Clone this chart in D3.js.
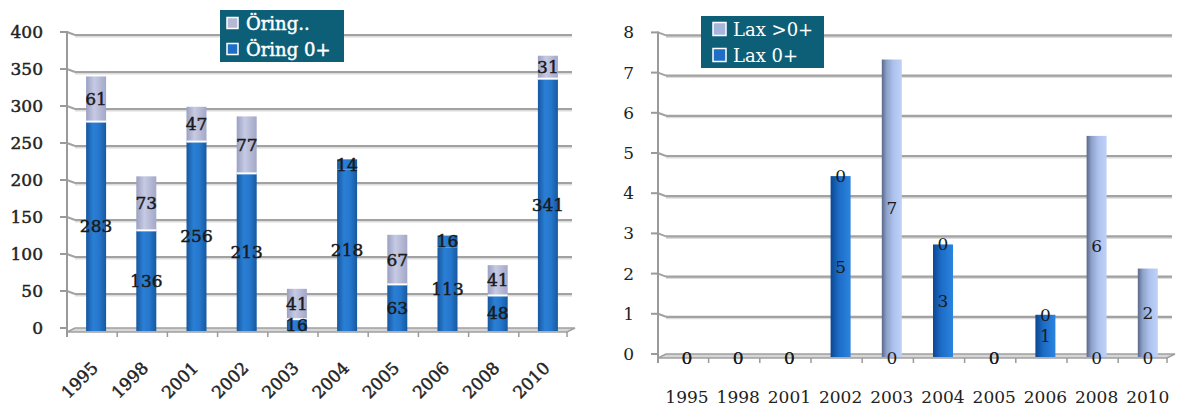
<!DOCTYPE html>
<html>
<head>
<meta charset="utf-8">
<script src="https://cdn.jsdelivr.net/npm/d3@7"></script>
<style>
html,body{margin:0;padding:0;background:#fff;}
svg{display:block;}
</style>
</head>
<body>
<svg id="c" width="1180" height="408"></svg>
<script>
// ---------- data ----------
const categories = ["1995","1998","2001","2002","2003","2004","2005","2006","2008","2010"];
const oringYoung = [283,136,256,213,16,218,63,113,48,341];   // "Öring 0+"
const oringOlder = [61,73,47,77,41,14,67,16,41,31];         // "Öring.."
const laxYoung   = [0,0,0,4.5,0,2.8,0,1.05,0,0];            // "Lax 0+"
const laxOlder   = [0,0,0,0,7.4,0,0,0,5.5,2.2];             // "Lax >0+"
const leftTicks  = [0,50,100,150,200,250,300,350,400];
const rightTicks = [0,1,2,3,4,5,6,7,8];
const leftLegend  = ["Öring..","Öring 0+"];
const rightLegend = ["Lax >0+","Lax 0+"];
// points of the older series that were drawn in the dark colour in the original
const olderDrawnDark = new Set(["2004","2006"]);

const svg = d3.select("#c");
const defs = svg.append("defs");
function grad(id, stops){
  const g = defs.append("linearGradient").attr("id",id).attr("x1","0").attr("x2","1").attr("y1","0").attr("y2","0");
  stops.forEach(s=>g.append("stop").attr("offset",s[0]).attr("stop-color",s[1]));
}
grad("blueL",[["0%","#16579f"],["35%","#2a7fd5"],["65%","#2577cd"],["100%","#17599f"]]);
grad("greyL",[["0%","#9aa0c2"],["40%","#c6cae3"],["100%","#a3a8c8"]]);
grad("blueR",[["0%","#0c4791"],["40%","#1c6cc6"],["100%","#2b84de"]]);
grad("lightR",[["0%","#5b6988"],["25%","#8ea2cb"],["60%","#aec3ee"],["100%","#bfd1f6"]]);

const serif = "'DejaVu Serif', serif";

function styleText(t, cfg, color){
  t.attr("font-family",serif).attr("fill",color);
  if (cfg.heavy) t.attr("stroke",color).attr("stroke-width",0.45);
  return t;
}

function chart(cfg){
  const g = svg.append("g");
  const y = d3.scaleLinear().domain(cfg.domain).range([cfg.y0, cfg.yTop]);
  const x = d3.scaleBand().domain(categories).range(cfg.band).padding(0);
  const ax = cfg.axisX, dep = 8;

  // gridlines (back wall) with 3D jog
  cfg.ticks.forEach(t=>{
    const yy = y(t);
    if (t !== 0) {
      g.append("line").attr("x1",ax+dep).attr("x2",cfg.endX).attr("y1",yy+1.5).attr("y2",yy+1.5)
        .attr("stroke","#dcdcdc").attr("stroke-width",2);
      g.append("line").attr("x1",ax+dep).attr("x2",cfg.endX).attr("y1",yy).attr("y2",yy)
        .attr("stroke","#a2a2a2").attr("stroke-width",2.2);
      g.append("path").attr("d",`M${ax},${yy-3}L${ax+dep},${yy}`).attr("stroke","#a2a2a2").attr("stroke-width",2).attr("fill","none");
    }
    g.append("line").attr("x1",ax-7).attr("x2",ax).attr("y1",yy-3).attr("y2",yy-3)
      .attr("stroke","#9a9a9a").attr("stroke-width",2);
    styleText(g.append("text").attr("x",ax-24).attr("y",yy-3).attr("text-anchor","end")
      .attr("dominant-baseline","central").attr("font-size",cfg.tickSize), cfg, "#222").text(t);
  });

  // floor
  const y0 = cfg.y0;
  g.append("path").attr("d",`M${ax+dep},${y0-3}L${cfg.endX+3},${y0-3}L${cfg.endX-5},${y0+1}L${ax},${y0+1}Z`)
    .attr("fill","#d6d6d6").attr("stroke","#a0a0a0").attr("stroke-width",1.5);
  // vertical axis
  g.append("line").attr("x1",ax).attr("x2",ax).attr("y1",y(cfg.domain[1])-4).attr("y2",y0+6)
    .attr("stroke","#9a9a9a").attr("stroke-width",2);
  // category ticks
  categories.forEach((c,i)=>{
    if(i===0) return;
    const bx = x(c) - 4;
    g.append("line").attr("x1",bx).attr("x2",bx).attr("y1",y0+1).attr("y2",y0+6)
      .attr("stroke","#9a9a9a").attr("stroke-width",1.5);
  });
  g.append("line").attr("x1",cfg.endX-5).attr("x2",cfg.endX-5).attr("y1",y0+1).attr("y2",y0+6)
      .attr("stroke","#9a9a9a").attr("stroke-width",1.5);

  // bars
  const bw = 20;
  categories.forEach((c,i)=>{
    const cx = x(c) + x.bandwidth()/2;
    const a = cfg.young[i], b = cfg.older[i];
    if (a > 0) {
      g.append("rect").attr("x",cx-bw/2).attr("width",bw).attr("y",y(a)).attr("height",y0-y(a))
        .attr("fill",`url(#${cfg.youngFill})`);
    }
    if (b > 0) {
      const dark = cfg.overrideDark && olderDrawnDark.has(c);
      g.append("rect").attr("x",cx-bw/2).attr("width",bw).attr("y",y(a+b)).attr("height",y(a)-y(a+b))
        .attr("fill",`url(#${dark ? cfg.youngFill : cfg.olderFill})`);
      if (a > 0 && !dark) {
        g.append("line").attr("x1",cx-bw/2).attr("x2",cx+bw/2).attr("y1",y(a)).attr("y2",y(a))
          .attr("stroke","#fff").attr("stroke-width",2);
      }
    }
  });

  // data labels
  categories.forEach((c,i)=>{
    const cx = x(c) + x.bandwidth()/2;
    const a = cfg.young[i], b = cfg.older[i];
    const lab = (v, yc) => styleText(g.append("text").attr("x",cx).attr("y",yc)
      .attr("text-anchor","middle").attr("dominant-baseline","central")
      .attr("font-size",cfg.labelSize), cfg, "#1a1a1a").text(cfg.fmt(v));
    lab(a, y(a/2) + (a===0 ? 1 : 0));
    lab(b, y(a + b/2) + (b===0 && a===0 ? 1 : 0));
  });

  // x labels
  categories.forEach(c=>{
    const cx = x(c) + x.bandwidth()/2;
    const t = styleText(g.append("text").attr("font-size",cfg.xSize), cfg, "#222").text(c);
    if (cfg.rotate) {
      t.attr("text-anchor","end").attr("transform",`translate(${cx+3},${y0+38}) rotate(-45)`);
    } else {
      t.attr("text-anchor","middle").attr("x",cx).attr("y",cfg.xLabelY);
    }
  });

  // legend
  const L = cfg.legend;
  g.append("rect").attr("x",L.x).attr("y",L.y).attr("width",L.w).attr("height",L.h).attr("fill","#0d5f77");
  L.items.forEach((name,k)=>{
    const ly = L.y + L.h*(k*2+1)/4;
    g.append("rect").attr("x",L.x+L.sx).attr("y",ly-L.ss/2).attr("width",L.ss).attr("height",L.ss)
      .attr("fill",L.colors[k]).attr("stroke","#fff").attr("stroke-width",1.5);
    styleText(g.append("text").attr("x",L.x+L.tx).attr("y",ly).attr("dominant-baseline","central")
      .attr("font-size",L.size), cfg, "#fff").text(name);
  });
}

chart({
  domain:[0,400], ticks:leftTicks, y0:331, yTop:35, band:[71,573], axisX:67, endX:572,
  young:oringYoung, older:oringOlder, youngFill:"blueL", olderFill:"greyL", overrideDark:true,
  fmt:d3.format("d"), heavy:true, tickSize:17, labelSize:17, xSize:17, rotate:true,
  legend:{x:220,y:10,w:124,h:52,items:leftLegend,colors:["#b4b8d6","#1f6ec6"],size:18,sx:7,ss:11,tx:26}
});

chart({
  domain:[0,8], ticks:rightTicks, y0:357, yTop:35.4, band:[661.4,1173.4], axisX:658, endX:1172,
  young:laxYoung, older:laxOlder, youngFill:"blueR", olderFill:"lightR", overrideDark:false,
  fmt:d3.format(".0f"), heavy:false, tickSize:17, labelSize:17, xSize:17, rotate:false, xLabelY:403,
  legend:{x:701,y:16,w:123,h:52,items:rightLegend,colors:["#a8b6de","#1f6ec6"],size:18,sx:12,ss:13,tx:32}
});
</script>
</body>
</html>
